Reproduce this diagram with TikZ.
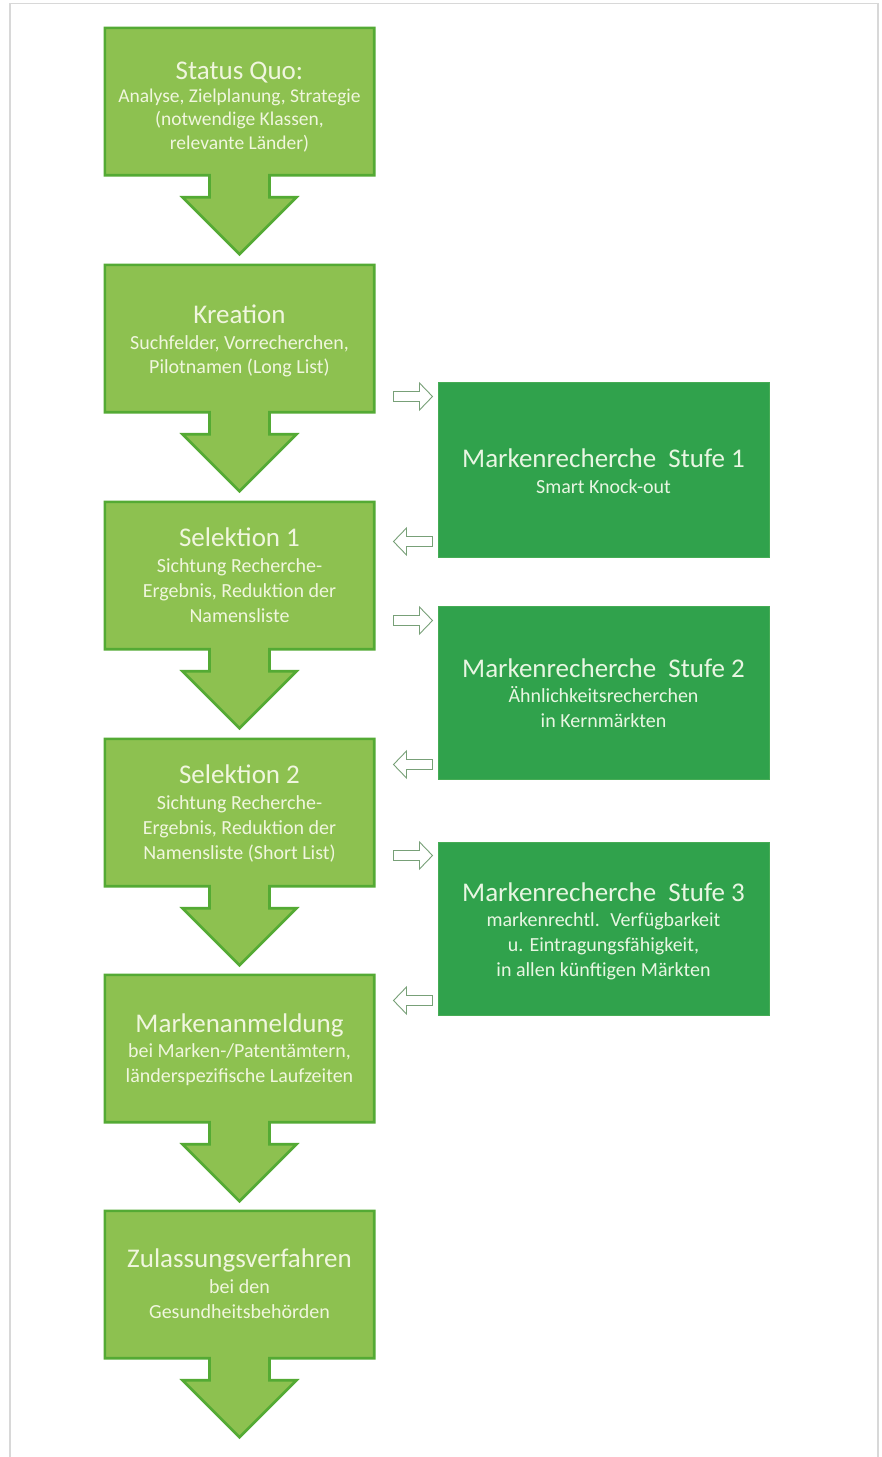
\documentclass[tikz,border=0pt]{standalone}
\usepackage{fontspec}
\setmainfont{Carlito}
\usetikzlibrary{calc}
\definecolor{lfill}{RGB}{141,193,80}
\definecolor{lborder}{RGB}{84,170,52}
\definecolor{rfill}{RGB}{48,162,76}
\definecolor{rborder}{RGB}{70,172,85}
\definecolor{ltext}{RGB}{240,246,222}
\definecolor{rtext}{RGB}{232,246,226}
\definecolor{hollowline}{RGB}{120,160,120}
\definecolor{frame}{RGB}{216,216,216}
\tikzset{
  lbox/.style={rectangle, minimum width=269pt, minimum height=147pt, inner sep=0pt, draw=none},
  lshape/.style={fill=lfill, draw=lborder, line width=2.6pt, line join=miter},
  rbox/.style={rectangle, minimum width=331pt, inner sep=0pt, fill=rfill, draw=rborder, line width=1pt},
  ttl/.style={anchor=base, text=ltext, font=\fontsize{27}{32}\selectfont},
  sub/.style={anchor=base, text=ltext, font=\fontsize{20}{25}\selectfont},
  rttl/.style={anchor=base, text=rtext, font=\fontsize{27}{32}\selectfont},
  rsub/.style={anchor=base, text=rtext, font=\fontsize{20}{25}\selectfont},
  hollow/.style={fill=white, draw=hollowline, line width=0.9pt, line join=miter},
}
\newcommand{\downunit}[1]{%
  \draw[lshape] (#1.north west) -- (#1.north east) -- (#1.south east)
    -- ($(#1.south)+(30,0)$) -- ($(#1.south)+(30,22)$) -- ($(#1.south)+(57,22)$)
    -- ($(#1.south)+(0,79)$)
    -- ($(#1.south)+(-57,22)$) -- ($(#1.south)+(-30,22)$) -- ($(#1.south)+(-30,0)$)
    -- (#1.south west) -- cycle;}
\newcommand{\rightarr}[1]{%
  \draw[hollow] (#1) ++(-19.5,-5) -- ++(26,0) -- ++(0,-8.5) -- ++(13,13.5) -- ++(-13,13.5) -- ++(0,-8.5) -- ++(-26,0) -- cycle;}
\newcommand{\leftarr}[1]{%
  \draw[hollow] (#1) ++(19.5,-5) -- ++(-26,0) -- ++(0,-8.5) -- ++(-13,13.5) -- ++(13,13.5) -- ++(0,-8.5) -- ++(26,0) -- cycle;}
\begin{document}
\begin{tikzpicture}[x=1pt,y=-1pt]
\useasboundingbox (0,0) rectangle (882,1457);
\fill[white] (0,0) rectangle (882,1457);
\draw[frame, line width=1.2pt] (10,1460) -- (10,3.5) -- (878,3.5) -- (878,1460);

% left column boxes
\node[lbox] (sq) at (239.5,101.5) {};
\node[lbox] (kr) at (239.5,338.5) {};
\node[lbox] (se1) at (239.5,575.5) {};
\node[lbox] (se2) at (239.5,812.5) {};
\node[lbox] (ma) at (239.5,1048.5) {};
\node[lbox] (zu) at (239.5,1284.5) {};
\downunit{sq}
\downunit{kr}
\downunit{se1}
\downunit{se2}
\downunit{ma}
\downunit{zu}

% right column boxes
\node[rbox, minimum height=175pt] (m1) at (603.5,469.5) {};
\node[rbox, minimum height=173pt] (m2) at (603.5,692.5) {};
\node[rbox, minimum height=173pt] (m3) at (603.5,928.5) {};

% texts left
\node[ttl] (sqt) at (239.5,79) {Status Quo:};
\node[sub, font=\fontsize{19.5}{24}\selectfont] (sqs1) at (239.5,102) {Analyse, Zielplanung, Strategie};
\node[sub, font=\fontsize{19.5}{24}\selectfont] (sqs2) at (239.5,125) {(notwendige Klassen,};
\node[sub, font=\fontsize{19.5}{24}\selectfont] (sqs3) at (239.5,149) {relevante Länder)};

\node[ttl] (krt) at (239.5,323) {Kreation};
\node[sub] (krs1) at (239.5,349) {Suchfelder, Vorrecherchen,};
\node[sub] (krs2) at (239.5,373) {Pilotnamen (Long List)};

\node[ttl] (se1t) at (239.5,546) {Selektion 1};
\node[sub] (se1s1) at (239.5,572) {Sichtung Recherche-};
\node[sub] (se1s2) at (239.5,597) {Ergebnis, Reduktion der};
\node[sub] (se1s3) at (239.5,622) {Namensliste};

\node[ttl] (se2t) at (239.5,783) {Selektion 2};
\node[sub] (se2s1) at (239.5,809) {Sichtung Recherche-};
\node[sub] (se2s2) at (239.5,834) {Ergebnis, Reduktion der};
\node[sub] (se2s3) at (239.5,859) {Namensliste (Short List)};

\node[ttl] (mat) at (239.5,1032) {Markenanmeldung};
\node[sub] (mas1) at (239.5,1057) {bei Marken-/Patentämtern,};
\node[sub] (mas2) at (239.5,1082) {länderspezifische Laufzeiten};

\node[ttl] (zut) at (239.5,1267) {Zulassungsverfahren};
\node[sub] (zus1) at (239.5,1293) {bei den};
\node[sub] (zus2) at (239.5,1318) {Gesundheitsbehörden};

% texts right
\node[rttl] (m1t) at (603.5,467) {Markenrecherche~ Stufe 1};
\node[rsub] (m1s1) at (603.5,493) {Smart Knock-out};

\node[rttl] (m2t) at (603.5,677) {Markenrecherche~ Stufe 2};
\node[rsub] (m2s1) at (603.5,702) {Ähnlichkeitsrecherchen};
\node[rsub] (m2s2) at (603.5,727) {in Kernmärkten};

\node[rttl] (m3t) at (603.5,901) {Markenrecherche~ Stufe 3};
\node[rsub] (m3s1) at (603.5,926) {markenrechtl.~ Verfügbarkeit};
\node[rsub] (m3s2) at (603.5,951) {u. Eintragungsfähigkeit,};
\node[rsub] (m3s3) at (603.5,976) {in allen künftigen Märkten};

% hollow block arrows between columns
\coordinate (a1r) at ($(m1.north west)+(-24.5,15)$);
\coordinate (a1l) at ($(m1.south west)+(-24.5,-16)$);
\coordinate (a2r) at ($(m2.north west)+(-24.5,15)$);
\coordinate (a2l) at ($(m2.south west)+(-24.5,-15)$);
\coordinate (a3r) at ($(m3.north west)+(-24.5,14)$);
\coordinate (a3l) at ($(m3.south west)+(-24.5,-15)$);
\rightarr{a1r}
\leftarr{a1l}
\rightarr{a2r}
\leftarr{a2l}
\rightarr{a3r}
\leftarr{a3l}
\end{tikzpicture}
\end{document}
